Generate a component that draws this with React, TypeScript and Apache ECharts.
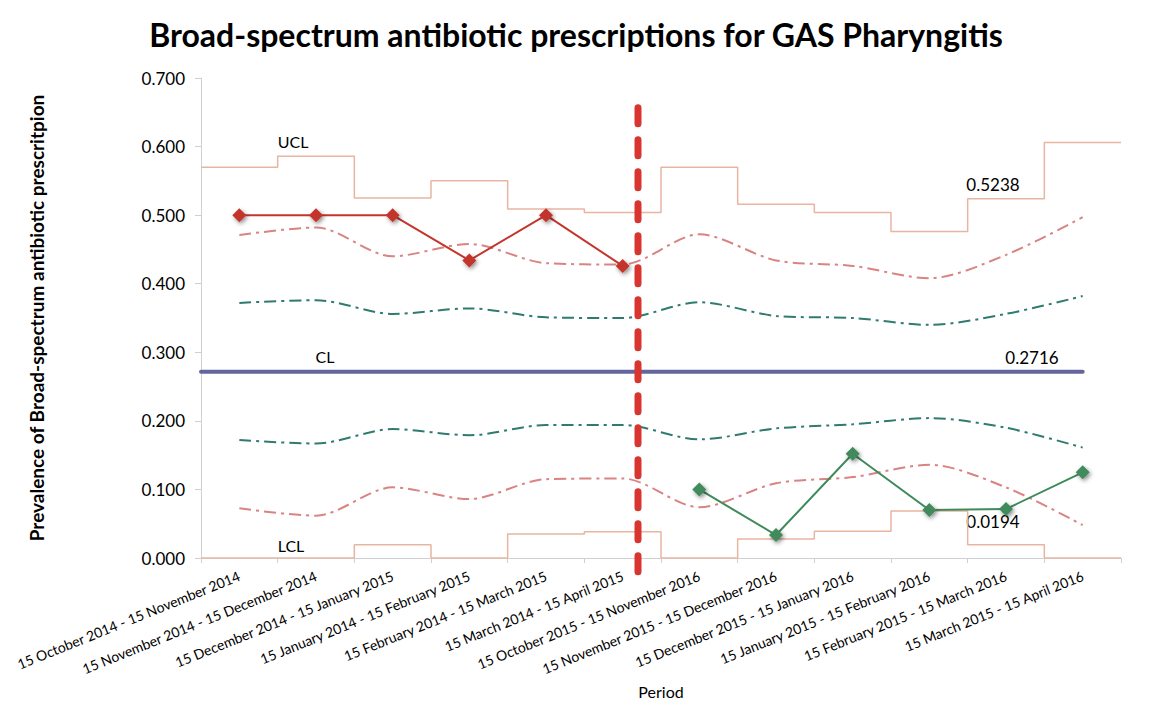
import React, { useEffect, useRef } from "react";
import * as echarts from "echarts";

const categories = [
  "15 October 2014 - 15 November 2014",
  "15 November 2014 - 15 December 2014",
  "15 December 2014 - 15 January 2015",
  "15 January 2014 - 15 February 2015",
  "15 February 2014 - 15 March 2015",
  "15 March 2014 - 15 April 2015",
  "15 October 2015 - 15 November 2016",
  "15 November 2015 - 15 December 2016",
  "15 December 2015 - 15 January 2016",
  "15 January 2015 - 15 February 2016",
  "15 February 2015 - 15 March 2016",
  "15 March 2015 - 15 April 2016",
];

const beforeValues = [0.5, 0.5, 0.5, 0.434, 0.5, 0.426, null, null, null, null, null, null];
const afterValues = [null, null, null, null, null, null, 0.1, 0.0335, 0.152, 0.07, 0.0714, 0.125];

const uclValues = [0.57, 0.586, 0.525, 0.55, 0.509, 0.504, 0.57, 0.516, 0.504, 0.476, 0.5238, 0.606];
const lclValues = [0, 0, 0.0194, 0, 0.035, 0.0384, 0, 0.0277, 0.039, 0.0685, 0.0194, 0];
const upper2Values = [0.471, 0.482, 0.44, 0.458, 0.43, 0.428, 0.472, 0.434, 0.426, 0.408, 0.442, 0.497];
const upper1Values = [0.372, 0.376, 0.356, 0.364, 0.351, 0.35, 0.373, 0.353, 0.35, 0.34, 0.356, 0.382];
const lower1Values = [0.172, 0.167, 0.188, 0.179, 0.194, 0.194, 0.173, 0.189, 0.195, 0.204, 0.19, 0.161];
const lower2Values = [0.0724, 0.0617, 0.103, 0.086, 0.115, 0.116, 0.074, 0.109, 0.118, 0.136, 0.103, 0.048];

const centerLine = 0.2716;
const interventionPosition = 5.7; // position on the period scale (0..12)
const yTicks = [0, 0.1, 0.2, 0.3, 0.4, 0.5, 0.6, 0.7];

const FONT = "Lato, 'Open Sans', sans-serif";

function stepData(values: number[]) {
  const out: [number, number][] = [];
  values.forEach((v, i) => {
    out.push([i, v]);
    out.push([i + 1, v]);
  });
  return out;
}

export default function App() {
  const ref = useRef<HTMLDivElement>(null);

  useEffect(() => {
    if (!ref.current) return;
    const chart = echarts.init(ref.current, undefined, { renderer: "svg" });

    const sigmaLine = (name: string, data: number[], color: string) => ({
      name,
      type: "line",
      xAxisIndex: 0,
      yAxisIndex: 0,
      data,
      smooth: 0.3,
      symbol: "none",
      lineStyle: { color, width: 2, type: [12, 5, 3, 5] },
      z: 3,
    });

    const stepLine = (name: string, values: number[]) => ({
      name,
      type: "line",
      xAxisIndex: 1,
      yAxisIndex: 0,
      data: stepData(values),
      symbol: "none",
      lineStyle: { color: "#e8b5a0", width: 1.5 },
      z: 2,
    });

    const markerStyle = (color: string) => ({
      color,
      shadowBlur: 4,
      shadowColor: "rgba(0,0,0,0.45)",
      shadowOffsetX: 1.5,
      shadowOffsetY: 2,
    });

    chart.setOption({
      animation: false,
      backgroundColor: "#ffffff",
      textStyle: { fontFamily: FONT },
      title: {
        text: "Broad-spectrum antibiotic prescriptions for GAS Pharyngitis",
        left: 571,
        textAlign: "center",
        top: 13,
        textStyle: { fontFamily: FONT, fontWeight: "bold", fontSize: 32, color: "#000" },
      },
      grid: { left: 201, right: 31, top: 78, bottom: 162 },
      xAxis: [
        {
          type: "category",
          data: categories,
          boundaryGap: true,
          name: "Period",
          nameLocation: "middle",
          nameGap: 125,
          nameTextStyle: { fontFamily: FONT, fontSize: 16, color: "#000" },
          axisLine: { lineStyle: { color: "#d0d0d0", width: 1 } },
          axisTick: { show: true, length: 5, lineStyle: { color: "#d0d0d0" } },
          axisLabel: {
            interval: 0,
            rotate: 22,
            fontSize: 14,
            color: "#000",
            margin: 17,
            fontFamily: FONT,
          },
          splitLine: { show: false },
        },
        {
          type: "value",
          min: 0,
          max: 12,
          show: false,
        },
      ],
      yAxis: {
        type: "value",
        min: 0,
        max: 0.7,
        interval: 0.1,
        name: "Prevalence of Broad-spectrum antibiotic prescritpion",
        nameLocation: "middle",
        nameGap: 155,
        nameTextStyle: { fontFamily: FONT, fontSize: 19, fontWeight: "bold", color: "#000" },
        axisLine: { show: true, lineStyle: { color: "#d0d0d0", width: 1 } },
        axisTick: { show: true, length: 6, lineStyle: { color: "#d0d0d0" } },
        axisLabel: {
          fontSize: 17,
          color: "#000",
          margin: 16,
          fontFamily: FONT,
          formatter: (v: number) => (yTicks.some((t) => Math.abs(t - v) < 1e-9) ? v.toFixed(3) : ""),
        },
        splitLine: { show: false },
      },
      series: [
        stepLine("UCL", uclValues),
        stepLine("LCL", lclValues),
        sigmaLine("+2 sigma", upper2Values, "#d98383"),
        sigmaLine("+1 sigma", upper1Values, "#2f7b70"),
        sigmaLine("-1 sigma", lower1Values, "#2f7b70"),
        sigmaLine("-2 sigma", lower2Values, "#d98383"),
        {
          name: "CL",
          type: "line",
          xAxisIndex: 1,
          yAxisIndex: 0,
          data: [
            [0, centerLine],
            [11.5, centerLine],
          ],
          symbol: "none",
          lineStyle: { color: "#64649f", width: 4, cap: "round" },
          z: 4,
        },
        {
          name: "Before",
          type: "line",
          xAxisIndex: 0,
          yAxisIndex: 0,
          data: beforeValues,
          symbol: "diamond",
          symbolSize: 14,
          showSymbol: true,
          lineStyle: { color: "#c3362b", width: 2 },
          itemStyle: markerStyle("#c3362b"),
          z: 5,
        },
        {
          name: "After",
          type: "line",
          xAxisIndex: 0,
          yAxisIndex: 0,
          data: afterValues,
          symbol: "diamond",
          symbolSize: 14,
          showSymbol: true,
          lineStyle: { color: "#3f8a5b", width: 2 },
          itemStyle: markerStyle("#3f8a5b"),
          z: 5,
        },
        {
          name: "Intervention",
          type: "line",
          xAxisIndex: 1,
          yAxisIndex: 0,
          clip: false,
          data: [
            [interventionPosition, -0.02],
            [interventionPosition, 0.663],
          ],
          symbol: "none",
          lineStyle: { color: "#d8352e", width: 7, type: [16, 16], cap: "round" },
          z: 6,
        },
      ],
      graphic: [
        { type: "text", x: 293, y: 141, style: { text: "UCL", fontSize: 16, fontFamily: FONT, fill: "#000", align: "center", verticalAlign: "middle" } },
        { type: "text", x: 325, y: 356, style: { text: "CL", fontSize: 16, fontFamily: FONT, fill: "#000", align: "center", verticalAlign: "middle" } },
        { type: "text", x: 291, y: 545, style: { text: "LCL", fontSize: 16, fontFamily: FONT, fill: "#000", align: "center", verticalAlign: "middle" } },
        { type: "text", x: 993, y: 184, style: { text: "0.5238", fontSize: 17, fontFamily: FONT, fill: "#000", align: "center", verticalAlign: "middle" } },
        { type: "text", x: 1032, y: 357, style: { text: "0.2716", fontSize: 17, fontFamily: FONT, fill: "#000", align: "center", verticalAlign: "middle" } },
        { type: "text", x: 993, y: 521, style: { text: "0.0194", fontSize: 17, fontFamily: FONT, fill: "#000", align: "center", verticalAlign: "middle" } },
      ],
    });

    return () => chart.dispose();
  }, []);

  return (
    <div
      ref={ref}
      style={{ position: "fixed", left: 0, top: 0, width: 1152, height: 720 }}
    />
  );
}
